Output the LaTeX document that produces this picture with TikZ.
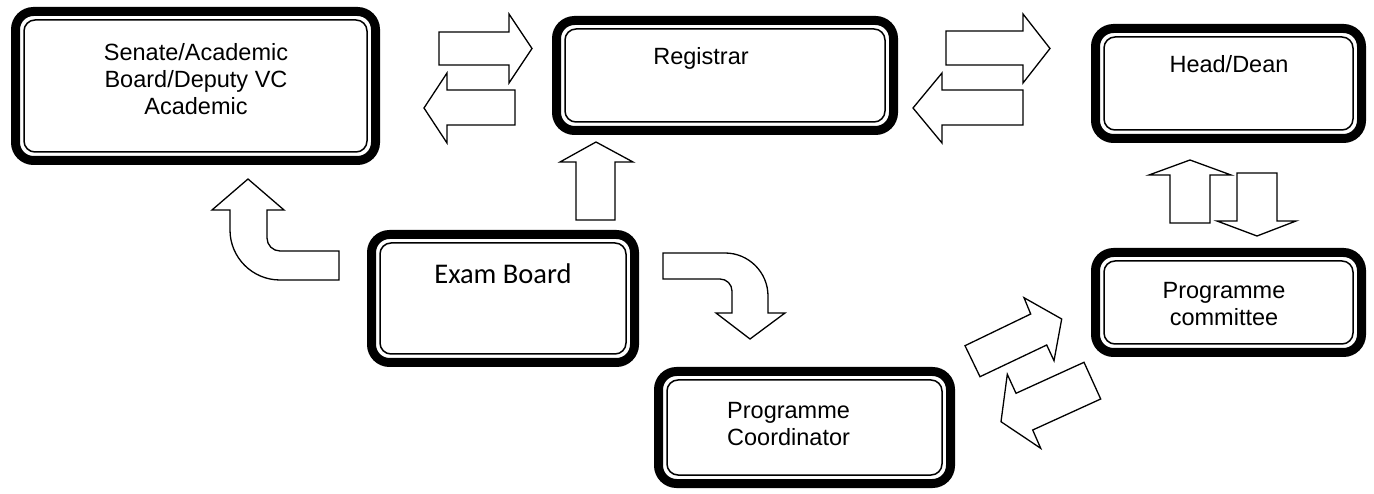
\documentclass[tikz,border=0pt]{standalone}
\usepackage{fontspec}
\setmainfont{Liberation Sans}
\newfontfamily\calibrifont{Carlito}
\newcommand\innerframe[1]{\draw[ibox] ([shift={(8.5,8.5)}]#1.north west) rectangle ([shift={(-8.5,-8.5)}]#1.south east);}
\begin{document}
\begin{tikzpicture}[x=1pt,y=-1pt,
  obox/.style={draw, line width=9pt, rounded corners=18pt, outer sep=0pt, inner sep=0pt},
  ibox/.style={draw, line width=1.5pt, rounded corners=11pt},
  lbl/.style={font=\fontsize{23.5}{27}\selectfont, inner sep=0pt},
  barrow/.style={draw, line width=1.3pt, fill=white, line join=miter}]
\useasboundingbox (0,0) rectangle (1374,494);

% boxes
\node[obox, minimum width=360pt, minimum height=149pt] (senate) at (195.5,86) {};
\innerframe{senate}
\node[obox, minimum width=337pt, minimum height=110pt] (reg) at (725,75.5) {};
\innerframe{reg}
\node[obox, minimum width=266pt, minimum height=110pt] (head) at (1228.5,83.5) {};
\innerframe{head}
\node[obox, minimum width=263pt, minimum height=128pt] (exam) at (503,298.5) {};
\innerframe{exam}
\node[obox, minimum width=266pt, minimum height=100pt] (comm) at (1228.5,302.5) {};
\innerframe{comm}
\node[obox, minimum width=292pt, minimum height=112pt] (coord) at (804.5,427.5) {};
\innerframe{coord}

% labels
\node[lbl, align=center, anchor=north] (senateT) at (196,43) {Senate/Academic\\Board/Deputy VC\\Academic};
\node[lbl, anchor=base] (regT) at (701,65) {Registrar};
\node[lbl, anchor=base] (headT) at (1229,73) {Head/Dean};
\node[inner sep=0pt, anchor=base, font=\calibrifont\fontsize{28.5}{32}\selectfont] (examT) at (503,284) {Exam Board};
\node[lbl, align=center, anchor=north] (commT) at (1224,282) {Programme\\committee};
\node[lbl, align=left, anchor=north west] (coordT) at (727,402) {Programme\\Coordinator};

% block arrows between Senate and Registrar
\draw[barrow] (439,32) -- (509,32) -- (509,14) -- (532,48.5) -- (509,83) -- (509,65) -- (439,65) -- cycle;
\draw[barrow] (515,90) -- (447,90) -- (447,73) -- (424,108) -- (447,143) -- (447,125) -- (515,125) -- cycle;
% between Registrar and Head/Dean
\draw[barrow] (946,31) -- (1023,31) -- (1023,14) -- (1050,48.5) -- (1023,83) -- (1023,65) -- (946,65) -- cycle;
\draw[barrow] (1023,90) -- (942,90) -- (942,73) -- (913,108) -- (942,143) -- (942,125) -- (1023,125) -- cycle;
% Exam Board -> Registrar
\draw[barrow] (576,220) -- (576,162) -- (560,162) -- (596,142) -- (633,162) -- (615,162) -- (615,220) -- cycle;
% committee <-> Head/Dean
\draw[barrow] (1170,223) -- (1170,175) -- (1149,175) -- (1190,160) -- (1231,175) -- (1210,175) -- (1210,223) -- cycle;
\draw[barrow] (1237,173) -- (1237,221) -- (1217,221) -- (1257,236) -- (1296,221) -- (1277,221) -- (1277,173) -- cycle;
% curved arrow Exam Board -> Senate
\draw[barrow] (248,179) -- (284,210) -- (267,210) -- (267,238)
  .. controls (267,245.2) and (272.8,251) .. (280,251) -- (339,251) -- (339,280) -- (280,280)
  .. controls (252.4,280) and (230,257.6) .. (230,230) -- (230,210) -- (212,210) -- cycle;
% curved arrow Exam Board -> Coordinator
\draw[barrow] (663,253) -- (725,253) .. controls (748.7,253) and (768,272.3) .. (768,296)
  -- (768,313) -- (785,313) -- (750,339) -- (716,313) -- (732,313) -- (732,291)
  .. controls (732,284.4) and (726.6,279) .. (720,279) -- (663,279) -- cycle;
% diagonal arrows Coordinator <-> committee
\draw[barrow] (965,345.7) -- (1030.7,314) -- (1024,297.7) -- (1061.7,319) -- (1054,360.7) -- (1046.7,345) -- (980,376.7) -- cycle;
\draw[barrow] (1084,362.3) -- (1016,393.3) -- (1007.3,374.3) -- (1001,421.7) -- (1040.7,448.3) -- (1032.7,430) -- (1100.7,399) -- cycle;
\end{tikzpicture}
\end{document}
